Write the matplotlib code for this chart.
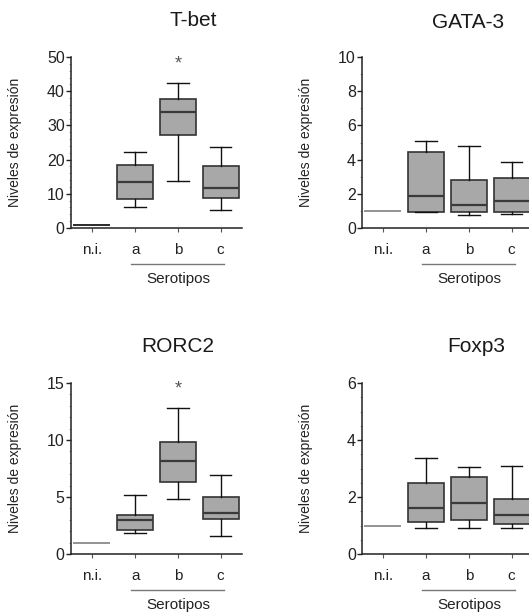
import matplotlib
matplotlib.use("Agg")
import matplotlib.pyplot as plt
from matplotlib.ticker import MultipleLocator

plt.rcParams['font.family'] = ['Liberation Sans', 'DejaVu Sans']

groups = ['n.i.', 'a', 'b', 'c']
ni_level = 1.0

# box stats per panel for a, b, c: (whislo, q1, med, q3, whishi)
tbet = [(6.2, 8.6, 13.5, 18.5, 22.3),
        (13.6, 27.1, 33.9, 37.6, 42.3),
        (5.2, 8.8, 11.8, 18.2, 23.6)]
gata3 = [(0.92, 0.94, 1.88, 4.46, 5.07),
         (0.78, 0.92, 1.37, 2.82, 4.78),
         (0.82, 0.92, 1.58, 2.92, 3.87)]
rorc2 = [(1.83, 2.1, 2.94, 3.43, 5.21),
         (4.8, 6.29, 8.18, 9.84, 12.8),
         (1.57, 3.06, 3.61, 5.01, 6.96)]
foxp3 = [(0.91, 1.13, 1.6, 2.48, 3.38),
         (0.91, 1.21, 1.79, 2.70, 3.06),
         (0.91, 1.05, 1.38, 1.93, 3.09)]

panels = [
    # title, stats, ymax, major, minor, star_y, ni colour
    ('T-bet', tbet, 50, 10, 2, 48.0, '#1a1a1a'),
    ('GATA-3', gata3, 10, 2, 1, None, '#8a8a8a'),
    ('RORC2', rorc2, 15, 5, 1, 14.5, '#8a8a8a'),
    ('Foxp3', foxp3, 6, 2, 0.5, None, '#8a8a8a'),
]

W, H = 529, 615
fig = plt.figure(figsize=(W / 100, H / 100), dpi=100)

# axes boxes in pixels: left, top
boxes = [(71, 57), (362, 57), (71, 383), (362, 383)]
aw, ah = 171, 171
titles_px = [(193, 21), (468, 22), (178, 347), (476, 346)]

for (title, stats, ymax, major, minor, star_y, ni_col), (lx, ty), (tx, tyy) in zip(panels, boxes, titles_px):
    ax = fig.add_axes([lx / W, (H - ty - ah) / H, aw / W, ah / H])
    bstats = []
    for lo, q1, med, q3, hi in stats:
        bstats.append(dict(whislo=lo, q1=q1, med=med, q3=q3, whishi=hi, fliers=[]))
    ax.bxp(bstats, positions=[1, 2, 3], widths=0.84, patch_artist=True,
           showfliers=False, capwidths=0.5,
           boxprops=dict(facecolor='#a8a8a8', edgecolor='#333333', linewidth=1.2),
           medianprops=dict(color='#3a3a3a', linewidth=1.6),
           whiskerprops=dict(color='#111111', linewidth=1.0),
           capprops=dict(color='#111111', linewidth=1.0))
    ax.hlines(ni_level, 0 - 0.45, 0 + 0.42, color=ni_col, linewidth=1.3)

    ax.set_xlim(-0.5, 3.5)
    ax.set_ylim(0, ymax)
    ax.set_xticks(range(4))
    ax.set_xticklabels(groups, fontsize=11, color='#222222')
    ax.yaxis.set_major_locator(MultipleLocator(major))
    ax.yaxis.set_minor_locator(MultipleLocator(minor))
    ax.tick_params(axis='y', which='major', length=3.5, width=1, labelsize=11.5,
                   colors='#222222', pad=1)
    ax.tick_params(axis='y', which='minor', length=1.8, width=0.6, color='#999999')
    ax.tick_params(axis='x', which='major', length=3, width=0.8, color='#555555',
                   pad=8, labelsize=11)
    for s in ['top', 'right']:
        ax.spines[s].set_visible(False)
    for s in ['left', 'bottom']:
        ax.spines[s].set_linewidth(1.1)
        ax.spines[s].set_color('#222222')
    ax.patch.set_alpha(0)

    ax.set_ylabel('Niveles de expresión', fontsize=10, color='#222222')
    ax.yaxis.set_label_coords(-0.285, 0.5)

    trans = ax.get_xaxis_transform()
    ax.plot([0.9, 3.08], [-0.213, -0.213], transform=trans, color='#777777',
            linewidth=1.0, clip_on=False)
    ax.text(2, -0.30, 'Serotipos', transform=trans, ha='center', va='center',
            fontsize=11, color='#222222')

    if star_y is not None:
        ax.text(2, star_y, '*', ha='center', va='center', fontsize=13, color='#555555')

    fig.text(tx / W, 1 - tyy / H, title, ha='center', va='center', fontsize=15,
             color='#1a1a1a')

fig.savefig('out.png', dpi=100)
